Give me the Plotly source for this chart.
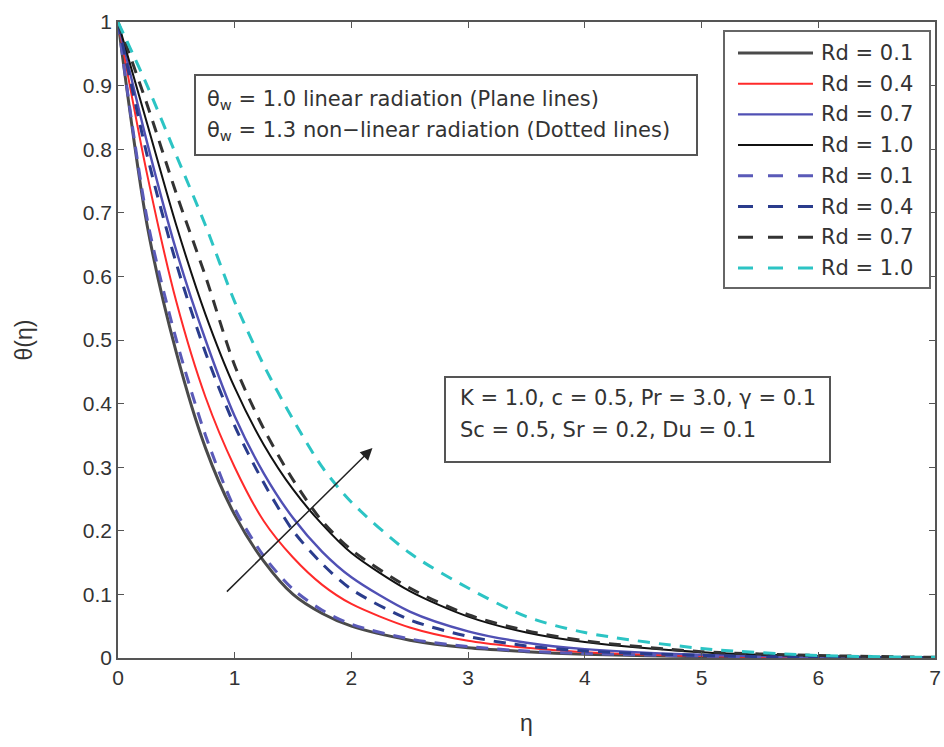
import plotly.graph_objects as go

eta = [0, 0.25, 0.5, 0.75, 1.0, 1.25, 1.5, 1.75, 2.0, 2.5, 3.0, 3.5, 4.0, 5.0, 6.0, 7.0]

# Linear radiation (theta_w = 1.0), solid lines
lin_rd01 = [1.0, 0.68, 0.48, 0.33, 0.225, 0.152, 0.100, 0.070, 0.050, 0.028, 0.016, 0.010, 0.006, 0.002, 0.001, 0.0]
lin_rd04 = [1.0, 0.76, 0.56, 0.41, 0.300, 0.215, 0.158, 0.115, 0.085, 0.048, 0.027, 0.016, 0.009, 0.003, 0.001, 0.0]
lin_rd07 = [1.0, 0.81, 0.64, 0.50, 0.380, 0.290, 0.220, 0.167, 0.127, 0.073, 0.042, 0.024, 0.014, 0.005, 0.002, 0.0]
lin_rd10 = [1.0, 0.84, 0.68, 0.54, 0.425, 0.335, 0.265, 0.210, 0.165, 0.105, 0.065, 0.040, 0.025, 0.009, 0.003, 0.001]

# Non-linear radiation (theta_w = 1.3), dashed lines
nl_rd01 = [1.0, 0.69, 0.50, 0.35, 0.235, 0.160, 0.108, 0.075, 0.053, 0.030, 0.018, 0.011, 0.007, 0.003, 0.001, 0.0]
nl_rd04 = [1.0, 0.79, 0.62, 0.48, 0.365, 0.275, 0.200, 0.148, 0.108, 0.060, 0.034, 0.019, 0.011, 0.004, 0.001, 0.0]
nl_rd07 = [1.0, 0.87, 0.73, 0.60, 0.460, 0.360, 0.280, 0.215, 0.170, 0.110, 0.068, 0.043, 0.027, 0.010, 0.004, 0.001]
nl_rd10 = [1.0, 0.90, 0.79, 0.68, 0.560, 0.460, 0.375, 0.300, 0.245, 0.165, 0.110, 0.065, 0.040, 0.015, 0.004, 0.001]

labels = ["Rd = 0.1", "Rd = 0.4", "Rd = 0.7", "Rd = 1.0"]

x_ticks = [0, 1, 2, 3, 4, 5, 6, 7]
y_ticks = [0, 0.1, 0.2, 0.3, 0.4, 0.5, 0.6, 0.7, 0.8, 0.9, 1]
y_ticktext = ["0", "0.1", "0.2", "0.3", "0.4", "0.5", "0.6", "0.7", "0.8", "0.9", "1"]

box1_lines = ["θ<sub>w</sub> = 1.0 linear radiation (Plane lines)",
              "θ<sub>w</sub> = 1.3 non−linear radiation (Dotted lines)"]
box2_lines = ["K = 1.0, c = 0.5, Pr = 3.0, γ = 0.1",
              "Sc = 0.5, Sr = 0.2, Du = 0.1"]

# arrow (direction of increasing Rd)
arrow_tail = (0.92, 0.102)
arrow_head = (2.18, 0.330)

FONT = "Liberation Sans, Arial, sans-serif"
TFONT = "DejaVu Sans, sans-serif"
TXT = "#333333"

# page geometry (body margin removed by post_script)
W, H = 944, 747
L, R, T, B = 118, 9, 22, 89
PX0, PX1, PY0, PY1 = 118, 935, 22, 658  # plot area in page pixels


def px(xp):
    return (xp - PX0) / (PX1 - PX0)


def py(yp):
    return (PY1 - yp) / (PY1 - PY0)


series = [
    (lin_rd01, labels[0], "#4a4a4a", 3.0, "solid"),
    (lin_rd04, labels[1], "#ff2a2a", 2.0, "solid"),
    (lin_rd07, labels[2], "#5050b4", 2.4, "solid"),
    (lin_rd10, labels[3], "#111111", 2.0, "solid"),
    (nl_rd01, labels[0], "#5a5ab8", 3.0, "dash"),
    (nl_rd04, labels[1], "#2a3c8c", 3.0, "dash"),
    (nl_rd07, labels[2], "#333333", 3.0, "dash"),
    (nl_rd10, labels[3], "#2cc4c4", 3.0, "dash"),
]

fig = go.Figure()
for ys, name, color, width, dash in series:
    fig.add_trace(go.Scatter(
        x=eta, y=ys, mode="lines", name=name, showlegend=False,
        line=dict(color=color, width=width, dash=("12px,9px" if dash == "dash" else "solid"),
                  shape="spline", smoothing=0.8),
    ))

axis_common = dict(
    showline=True, linecolor="#555555", linewidth=1.5, mirror="allticks",
    ticks="inside", ticklen=6, tickwidth=1.2, tickcolor="#555555",
    showgrid=False, zeroline=False, automargin=False,
    tickfont=dict(family=FONT, size=21, color=TXT),
)

fig.update_layout(
    width=W, height=H,
    margin=dict(l=L, r=R, t=T, b=B),
    paper_bgcolor="white", plot_bgcolor="white",
    font=dict(family=FONT, color=TXT),
    xaxis=dict(range=[0, 7], tickvals=x_ticks, ticktext=[str(v) for v in x_ticks],
               title=dict(text="η", font=dict(family=FONT, size=23, color=TXT), standoff=27),
               **axis_common),
    yaxis=dict(range=[0, 1], tickvals=y_ticks, ticktext=y_ticktext,
               title=dict(text="θ(η)", font=dict(family=FONT, size=23, color=TXT), standoff=44),
               **axis_common),
    showlegend=False,
)

# ---- manual legend ----
fig.add_shape(type="rect", xref="paper", yref="paper", x0=px(724), x1=px(930), y0=py(288), y1=py(31),
              line=dict(color="#666666", width=2), fillcolor="white", layer="above")
for i, (ys, name, color, width, dash) in enumerate(series):
    yc = 53 + 30.7 * i
    fig.add_shape(type="line", xref="paper", yref="paper", x0=px(738), x1=px(813), y0=py(yc), y1=py(yc),
                  line=dict(color=color, width=width, dash=("15px,15px" if dash == "dash" else "solid")),
                  layer="above")
    fig.add_annotation(xref="paper", yref="paper", x=px(819), y=py(yc), xanchor="left", yanchor="middle",
                       text=name, showarrow=False, font=dict(family=TFONT, size=21, color=TXT))

# ---- text boxes ----
fig.add_shape(type="rect", xref="paper", yref="paper", x0=px(195), x1=px(697), y0=py(155), y1=py(75),
              line=dict(color="#555555", width=2), fillcolor="white", layer="above")
for j, t in enumerate(box1_lines):
    fig.add_annotation(xref="paper", yref="paper", x=px(205), y=py(100 + 31 * j), xanchor="left",
                       yanchor="middle", align="left", showarrow=False, text=t,
                       font=dict(family=TFONT, size=21, color=TXT))

fig.add_shape(type="rect", xref="paper", yref="paper", x0=px(445), x1=px(830), y0=py(462), y1=py(377),
              line=dict(color="#555555", width=2), fillcolor="white", layer="above")
for j, t in enumerate(box2_lines):
    fig.add_annotation(xref="paper", yref="paper", x=px(458), y=py(398 + 32 * j), xanchor="left",
                       yanchor="middle", align="left", showarrow=False, text=t,
                       font=dict(family=TFONT, size=21, color=TXT))

# arrow
fig.add_annotation(x=arrow_head[0], y=arrow_head[1], ax=arrow_tail[0], ay=arrow_tail[1],
                   xref="x", yref="y", axref="x", ayref="y", text="", showarrow=True,
                   arrowhead=2, arrowsize=1.6, arrowwidth=1.5, arrowcolor="#222222")

fig.write_html("out.html", config={"displayModeBar": False},
               post_script="document.body.style.margin='0';document.body.style.overflow='hidden';")
